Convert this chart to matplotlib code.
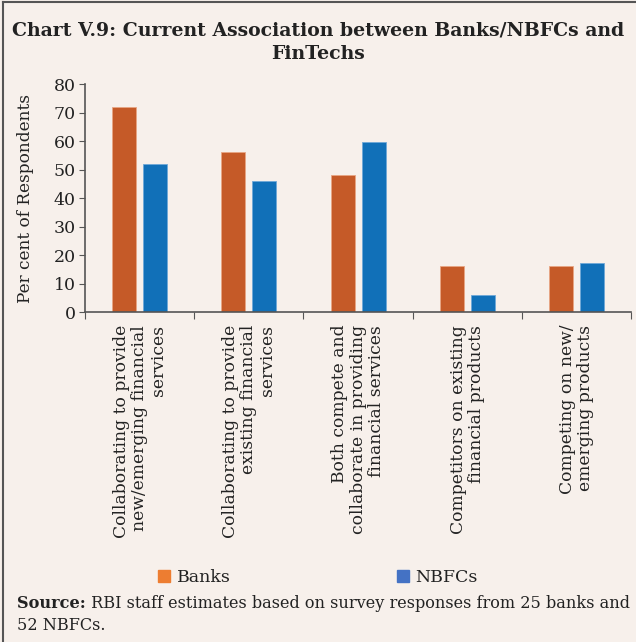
import matplotlib.pyplot as plt
import matplotlib.patches as mpatches
from matplotlib.lines import Line2D
import numpy as np

categories = [
    "Collaborating to provide\nnew/emerging financial\nservices",
    "Collaborating to provide\nexisting financial\nservices",
    "Both compete and\ncollaborate in providing\nfinancial services",
    "Competitors on existing\nfinancial products",
    "Competing on new/\nemerging products",
]
banks = [72, 56, 48, 16, 16]
nbfcs = [52, 46, 59.6, 5.8, 17.3]
yticks = [0, 10, 20, 30, 40, 50, 60, 70, 80]

bg = "#F7F0EB"
c_banks = "#C55A28"
c_nbfcs = "#1170B8"
plt.rcParams['font.family'] = ['DejaVu Serif']

fig = plt.figure(figsize=(6.36, 6.42), dpi=100, facecolor=bg)
ax = fig.add_axes([0.134, 0.514, 0.858, 0.355])
ax.set_facecolor(bg)

x = np.arange(len(categories))
w = 0.22
ax.bar(x - 0.142, banks, width=w, color=c_banks, edgecolor="#E8A684", linewidth=0.6)
ax.bar(x + 0.142, nbfcs, width=w, color=c_nbfcs, edgecolor="#6FA8D8", linewidth=0.6)

ax.set_xlim(-0.5, len(categories) - 0.5)
ax.set_ylim(0, 80)
ax.set_yticks(yticks)
ax.tick_params(axis='y', labelsize=12.5, length=4, color="#555555", pad=3, labelcolor="#222222")
ax.set_xticks(np.arange(len(categories) + 1) - 0.5)
ax.set_xticklabels([])
ax.tick_params(axis='x', length=5, color="#555555")
for s in ["top", "right"]:
    ax.spines[s].set_visible(False)
for s in ["left", "bottom"]:
    ax.spines[s].set_color("#555555")
    ax.spines[s].set_linewidth(1.2)
ax.set_ylabel("Per cent of Respondents", fontsize=12.2, labelpad=14, color="#222222")

for i, lab in enumerate(categories):
    ax.text(i, -4.5, lab, rotation=90, ha='center', va='top', multialignment='right',
            fontsize=12.3, linespacing=1.1, color="#222222")

fig.text(0.5, 0.967, "Chart V.9: Current Association between Banks/NBFCs and\nFinTechs",
         ha='center', va='top', fontsize=13.6, fontweight='bold', linespacing=1.42, color="#222222")

handles = [mpatches.Patch(color="#ED7D31"), mpatches.Patch(color="#4472C4")]
fig.legend(handles, ["Banks", "NBFCs"], loc='center', bbox_to_anchor=(0.5, 0.101), ncol=2,
           frameon=False, fontsize=12.5, handlelength=0.7, handleheight=0.7,
           handletextpad=0.35, columnspacing=9.6, labelcolor="#222222")

t1 = fig.text(0.027, 0.047, "Source:", ha='left', va='bottom', fontsize=11.6,
              fontweight='bold', color="#222222")
ax.annotate(" RBI staff estimates based on survey responses from 25 banks and",
            xy=(1, 0), xycoords=t1, ha='left', va='bottom', fontsize=11.6,
            color="#222222", annotation_clip=False)
fig.text(0.027, 0.026, "52 NBFCs.", ha='left', va='center', fontsize=11.6, color="#222222")

fig.add_artist(Line2D([0.004, 0.004], [0, 0.997], transform=fig.transFigure, color="#555555", lw=1.5))
fig.add_artist(Line2D([0.004, 1], [0.997, 0.997], transform=fig.transFigure, color="#555555", lw=1.5))

fig.savefig("out.png", dpi=100, facecolor=bg)
